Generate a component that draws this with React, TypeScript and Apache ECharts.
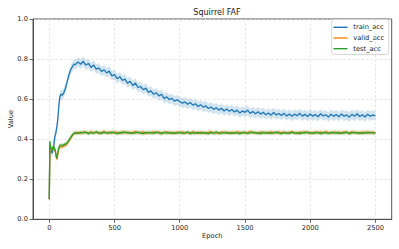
import React, { useEffect, useRef } from "react";
import * as echarts from "echarts";

const earlyEpochs = [0, 4, 8, 12, 16, 20, 25, 30, 35, 40, 45, 50, 55, 60, 65, 70, 75, 80, 90, 100, 110, 120, 130, 140, 150, 160, 170, 180, 190];
const lateEpochs = Array.from({ length: 116 }, (_, i) => 200 + 20 * i);
const epochs = [...earlyEpochs, ...lateEpochs];

const trainAcc = [
  0.10, 0.37, 0.36, 0.35, 0.34, 0.33, 0.34, 0.35, 0.37, 0.40, 0.42, 0.43, 0.45, 0.47, 0.50, 0.54, 0.58, 0.61, 0.625, 0.62, 0.63, 0.645, 0.67, 0.695, 0.72, 0.74, 0.755, 0.765, 0.775,
  0.772, 0.786, 0.774, 0.789, 0.770, 0.778, 0.758, 0.770, 0.750, 0.756,
  0.738, 0.746, 0.731, 0.740, 0.716, 0.722, 0.702, 0.712, 0.694, 0.700,
  0.680, 0.689, 0.668, 0.680, 0.658, 0.663, 0.647, 0.655, 0.634, 0.641,
  0.624, 0.632, 0.616, 0.624, 0.604, 0.611, 0.598, 0.604, 0.590, 0.596,
  0.588, 0.580, 0.586, 0.574, 0.583, 0.570, 0.577, 0.563, 0.572, 0.560,
  0.566, 0.553, 0.561, 0.549, 0.557, 0.545, 0.554, 0.541, 0.551, 0.539,
  0.548, 0.536, 0.545, 0.531, 0.541, 0.534, 0.545, 0.529, 0.538, 0.527,
  0.537, 0.525, 0.534, 0.522, 0.531, 0.520, 0.533, 0.521, 0.528, 0.518,
  0.529, 0.516, 0.526, 0.514, 0.525, 0.517, 0.529, 0.515, 0.524, 0.513,
  0.526, 0.515, 0.523, 0.512, 0.527, 0.516, 0.522, 0.511, 0.525, 0.514,
  0.523, 0.512, 0.526, 0.515, 0.521, 0.510, 0.524, 0.514, 0.527, 0.513,
  0.522, 0.511, 0.525, 0.515, 0.520, 0.517,
];

const validAcc = [
  0.10, 0.35, 0.345, 0.35, 0.345, 0.35, 0.355, 0.36, 0.355, 0.35, 0.34, 0.32, 0.305, 0.30, 0.325, 0.345, 0.355, 0.36, 0.36, 0.362, 0.365, 0.368, 0.372, 0.38, 0.39, 0.40, 0.41, 0.42, 0.428,
  0.431, 0.434, 0.429, 0.436, 0.433, 0.430, 0.437, 0.432, 0.435, 0.429,
  0.434, 0.438, 0.431, 0.435, 0.430, 0.436, 0.433, 0.429, 0.437, 0.432,
  0.435, 0.430, 0.434, 0.438, 0.431, 0.433, 0.436, 0.429, 0.434, 0.431,
  0.437, 0.432, 0.435, 0.430, 0.433, 0.436, 0.431, 0.434, 0.429, 0.435,
  0.432, 0.437, 0.430, 0.434, 0.431, 0.436, 0.433, 0.429, 0.435, 0.432,
  0.430, 0.434, 0.437, 0.431, 0.433, 0.429, 0.436, 0.432, 0.435, 0.430,
  0.434, 0.431, 0.437, 0.433, 0.430, 0.435, 0.432, 0.438, 0.431, 0.434,
  0.429, 0.436, 0.432, 0.434, 0.430, 0.437, 0.433, 0.431, 0.436, 0.432,
  0.435, 0.430, 0.434, 0.438, 0.432, 0.429, 0.435, 0.433, 0.437, 0.431,
  0.434, 0.430, 0.436, 0.432, 0.435, 0.431, 0.438, 0.433, 0.430, 0.436,
  0.432, 0.435, 0.430, 0.437, 0.433, 0.431, 0.436, 0.432, 0.434, 0.430,
  0.435, 0.432, 0.437, 0.431, 0.434, 0.433,
];

const testAcc = [
  0.10, 0.39, 0.37, 0.35, 0.35, 0.35, 0.355, 0.365, 0.36, 0.355, 0.345, 0.33, 0.31, 0.305, 0.33, 0.35, 0.36, 0.37, 0.37, 0.368, 0.372, 0.375, 0.378, 0.385, 0.395, 0.405, 0.415, 0.425, 0.43,
  0.432, 0.429, 0.434, 0.431, 0.435, 0.428, 0.433, 0.430, 0.436, 0.431,
  0.429, 0.434, 0.432, 0.430, 0.435, 0.431, 0.428, 0.433, 0.431, 0.436,
  0.430, 0.433, 0.429, 0.432, 0.435, 0.430, 0.428, 0.434, 0.431, 0.433,
  0.429, 0.435, 0.431, 0.428, 0.434, 0.430, 0.433, 0.429, 0.432, 0.430,
  0.434, 0.429, 0.431, 0.435, 0.428, 0.432, 0.430, 0.434, 0.429, 0.433,
  0.431, 0.428, 0.433, 0.430, 0.435, 0.431, 0.429, 0.434, 0.430, 0.432,
  0.429, 0.433, 0.430, 0.428, 0.434, 0.431, 0.429, 0.432, 0.435, 0.430,
  0.432, 0.428, 0.434, 0.430, 0.433, 0.429, 0.431, 0.435, 0.430, 0.428,
  0.433, 0.431, 0.429, 0.434, 0.430, 0.432, 0.428, 0.433, 0.431, 0.435,
  0.429, 0.432, 0.430, 0.434, 0.428, 0.433, 0.431, 0.429, 0.434, 0.430,
  0.433, 0.429, 0.432, 0.430, 0.435, 0.428, 0.431, 0.434, 0.430, 0.432,
  0.429, 0.433, 0.430, 0.434, 0.431, 0.430,
];

// approximate half-width of the shaded spread around each curve
const trainSpread = 0.024;
const validSpread = 0.011;
const testSpread = 0.011;

const xTicks = [0, 500, 1000, 1500, 2000, 2500];
const seriesNames = ["train_acc", "valid_acc", "test_acc"];
const colors = ["#1f77b4", "#ff7f0e", "#2ca02c"];
const FONT = "DejaVu Sans";

function bandSeries(values: number[], spread: number, color: string, z: number) {
  return {
    type: "custom",
    silent: true,
    clip: true,
    z,
    data: [[0, 0]],
    renderItem: (params: any, api: any) => {
      const pts: number[][] = [];
      for (let i = 0; i < epochs.length; i++) pts.push(api.coord([epochs[i], values[i] + spread]));
      for (let i = epochs.length - 1; i >= 0; i--) pts.push(api.coord([epochs[i], values[i] - spread]));
      return {
        type: "polygon",
        shape: { points: pts },
        style: { fill: color, opacity: 0.2 },
      };
    },
  };
}

function lineSeries(name: string, values: number[], color: string, z: number) {
  return {
    type: "line",
    name,
    z,
    data: epochs.map((e, i) => [e, values[i]]),
    showSymbol: false,
    symbol: "none",
    lineStyle: { color, width: 1.3 },
    itemStyle: { color },
  };
}

export default function App() {
  const ref = useRef<HTMLDivElement>(null);
  useEffect(() => {
    if (!ref.current) return;
    const chart = echarts.init(ref.current, null, { renderer: "svg" });
    const legendRows = [27.3, 38, 48.7];
    chart.setOption({
      animation: false,
      backgroundColor: "#ffffff",
      textStyle: { fontFamily: FONT },
      title: {
        text: "Squirrel FAF",
        left: 212,
        top: 3,
        textAlign: "center",
        textStyle: { fontFamily: FONT, fontSize: 8, fontWeight: "normal", color: "#222" },
      },
      grid: {
        left: 33,
        top: 19,
        right: 7.3,
        bottom: 29.7,
        containLabel: false,
        outerBoundsMode: "none",
        show: true,
        borderColor: "#444",
        borderWidth: 0.9,
        backgroundColor: "transparent",
      },
      xAxis: {
        type: "value",
        min: -125,
        max: 2625,
        name: "Epoch",
        nameLocation: "middle",
        nameGap: 13.5,
        nameMoveOverlap: false,
        nameTextStyle: { fontFamily: FONT, fontSize: 6.7, color: "#222" },
        axisLine: { show: true, onZero: false, lineStyle: { color: "#444", width: 0.9 } },
        axisTick: { show: true, length: 3.5, lineStyle: { color: "#444", width: 0.8 }, customValues: xTicks },
        axisLabel: {
          fontFamily: FONT,
          fontSize: 6.7,
          color: "#222",
          margin: 5,
          customValues: xTicks,
          formatter: (v: number) => String(v),
        },
        splitLine: { show: true, lineStyle: { color: "#dcdcdc", type: [2.5, 2], width: 0.7 } },
      },
      yAxis: {
        type: "value",
        min: 0,
        max: 1,
        interval: 0.2,
        name: "Value",
        nameLocation: "middle",
        nameGap: 19,
        nameMoveOverlap: false,
        nameTextStyle: { fontFamily: FONT, fontSize: 6.7, color: "#222" },
        axisLine: { show: true, onZero: false, lineStyle: { color: "#444", width: 0.9 } },
        axisTick: { show: true, length: 3.5, lineStyle: { color: "#444", width: 0.8 } },
        axisLabel: {
          fontFamily: FONT,
          fontSize: 6.7,
          color: "#222",
          margin: 5,
          formatter: (v: number) => v.toFixed(1),
        },
        splitLine: { show: true, lineStyle: { color: "#dcdcdc", type: [2.5, 2], width: 0.7 } },
      },
      series: [
        bandSeries(trainAcc, trainSpread, colors[0], 1),
        lineSeries(seriesNames[0], trainAcc, colors[0], 2),
        bandSeries(validAcc, validSpread, colors[1], 3),
        lineSeries(seriesNames[1], validAcc, colors[1], 4),
        bandSeries(testAcc, testSpread, colors[2], 5),
        lineSeries(seriesNames[2], testAcc, colors[2], 6),
      ],
      graphic: [
        {
          type: "group",
          z: 100,
          children: [
            {
              type: "rect",
              shape: { x: 331.7, y: 19.5, width: 57, height: 35, r: 2 },
              style: { fill: "rgba(255,255,255,0.85)", stroke: "#cccccc", lineWidth: 0.8 },
            },
            ...seriesNames.flatMap((name, i) => [
              {
                type: "line",
                shape: { x1: 333.5, y1: legendRows[i], x2: 347.5, y2: legendRows[i] },
                style: { stroke: colors[i], lineWidth: 1.4 },
              },
              {
                type: "text",
                x: 353.3,
                y: legendRows[i],
                style: {
                  text: name,
                  fontFamily: FONT,
                  fontSize: 6.7,
                  fill: "#222",
                  textVerticalAlign: "middle",
                },
              },
            ]),
          ],
        },
      ],
    });
    return () => chart.dispose();
  }, []);
  return <div ref={ref} style={{ width: 399, height: 249, position: "absolute", left: 0, top: 0 }} />;
}
